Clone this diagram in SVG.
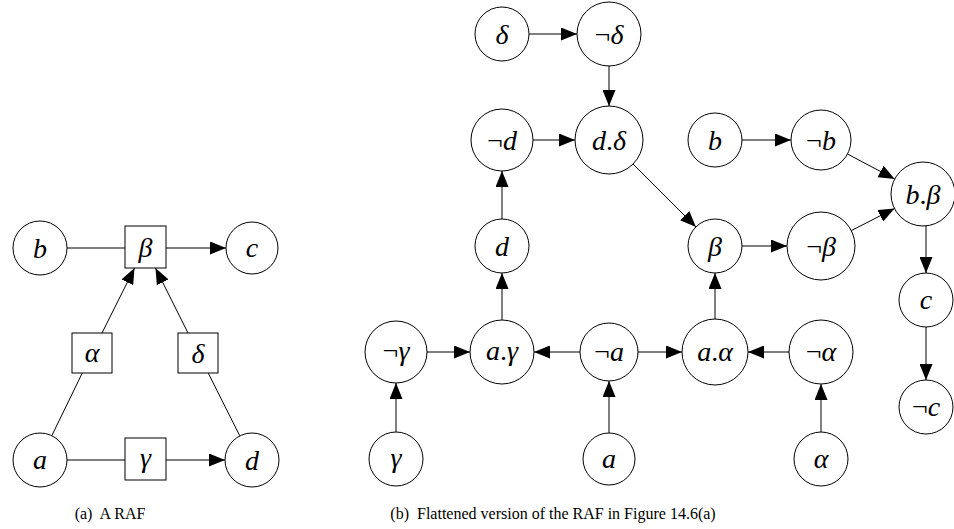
<svg xmlns="http://www.w3.org/2000/svg" width="954" height="529" viewBox="0 0 954 529">
<defs>
<marker id="arr" markerUnits="userSpaceOnUse" markerWidth="16" markerHeight="13" refX="16" refY="6.5" orient="auto">
<path d="M0,0 L16,6.5 L0,13 z" fill="#000"/>
</marker>
<style>
circle, rect { fill: #fff; stroke: #000; stroke-width: 1; }
.e line { stroke: #000; stroke-width: 1; fill: none; }
.a { marker-end: url(#arr); }
.l { font-size: 28px; font-style: italic; text-anchor: middle; }
.n { font-style: normal; }
.cap { font-size: 16px; text-anchor: middle; }
</style>
</defs>
<rect x="0" y="0" width="954" height="529" style="fill:#fff;stroke:none"/>

<g id="connectors" class="e">
<line x1="67" y1="248" x2="125" y2="248"/>
<line class="a" x1="166" y1="248" x2="226" y2="248"/>
<line x1="51.8" y1="435.7" x2="82.3" y2="373"/>
<line class="a" x1="102" y1="333" x2="134.5" y2="268"/>
<line x1="239.8" y1="435.9" x2="208.2" y2="373"/>
<line class="a" x1="188" y1="333" x2="155.5" y2="268"/>
<line x1="67" y1="460" x2="125" y2="460"/>
<line class="a" x1="166" y1="460" x2="225" y2="460"/>
<line class="a" x1="529" y1="34" x2="577" y2="34"/>
<line class="a" x1="609" y1="66" x2="609" y2="106"/>
<line class="a" x1="533" y1="140" x2="575" y2="140"/>
<line class="a" x1="502" y1="219" x2="502" y2="171"/>
<line class="a" x1="502" y1="320" x2="502" y2="273"/>
<line class="a" x1="427" y1="352" x2="470" y2="352"/>
<line class="a" x1="396" y1="432" x2="396" y2="383"/>
<line class="a" x1="580" y1="352" x2="534" y2="352"/>
<line class="a" x1="638" y1="352" x2="682" y2="352"/>
<line class="a" x1="609" y1="433" x2="609" y2="381"/>
<line class="a" x1="789" y1="352" x2="748" y2="352"/>
<line class="a" x1="821" y1="432" x2="821" y2="384"/>
<line class="a" x1="715" y1="319" x2="715" y2="273"/>
<line class="a" x1="633" y1="164" x2="696" y2="227"/>
<line class="a" x1="742" y1="246" x2="787" y2="246"/>
<line class="a" x1="851.3" y1="230.6" x2="894.5" y2="208.5"/>
<line class="a" x1="742" y1="140" x2="791" y2="140"/>
<line class="a" x1="847.5" y1="154" x2="894.7" y2="179"/>
<line class="a" x1="926" y1="226" x2="926" y2="273"/>
<line class="a" x1="926" y1="327" x2="926" y2="380"/>
</g>

<g font-family="'Liberation Serif', 'Times New Roman', 'DejaVu Serif', serif" fill="#000">
<g id="L_b"><circle cx="40" cy="248" r="27"/><text class="l" x="40" y="258">b</text></g>
<g id="L_beta"><rect x="125" y="226" width="41" height="42"/><text class="l" x="145.5" y="257">β</text></g>
<g id="L_c"><circle cx="252" cy="248" r="26"/><text class="l" x="252" y="257">c</text></g>
<g id="L_alpha"><rect x="72" y="333" width="40" height="40"/><text class="l" x="92" y="362">α</text></g>
<g id="L_delta"><rect x="178" y="333" width="40" height="40"/><text class="l" x="198" y="363">δ</text></g>
<g id="L_a"><circle cx="40" cy="460" r="27"/><text class="l" x="40" y="469">a</text></g>
<g id="L_gamma"><rect x="125" y="438" width="41" height="42"/><text class="l" x="145.5" y="467">γ</text></g>
<g id="L_d"><circle cx="252" cy="460" r="27"/><text class="l" x="252" y="470">d</text></g>

<g id="R_delta"><circle cx="502" cy="34" r="27"/><text class="l" x="502" y="44">δ</text></g>
<g id="R_ndelta"><circle cx="609" cy="34" r="32"/><text class="l" x="609" y="44"><tspan class="n">¬</tspan>δ</text></g>
<g id="R_nd"><circle cx="502" cy="140" r="31"/><text class="l" x="502" y="150"><tspan class="n">¬</tspan>d</text></g>
<g id="R_ddelta"><circle cx="609" cy="140" r="34"/><text class="l" x="609" y="150">d<tspan class="n">.</tspan>δ</text></g>
<g id="R_d"><circle cx="502" cy="246" r="27"/><text class="l" x="502" y="256">d</text></g>
<g id="R_ngamma"><circle cx="396" cy="352" r="31"/><text class="l" x="396" y="360"><tspan class="n">¬</tspan>γ</text></g>
<g id="R_agamma"><circle cx="502" cy="352" r="32"/><text class="l" x="502" y="360">a<tspan class="n">.</tspan>γ</text></g>
<g id="R_na"><circle cx="609" cy="352" r="29"/><text class="l" x="609" y="361"><tspan class="n">¬</tspan>a</text></g>
<g id="R_gamma"><circle cx="396" cy="459" r="27"/><text class="l" x="396" y="467">γ</text></g>
<g id="R_a"><circle cx="609" cy="459" r="26"/><text class="l" x="609" y="468">a</text></g>
<g id="R_b"><circle cx="715" cy="140" r="27"/><text class="l" x="715" y="150">b</text></g>
<g id="R_nb"><circle cx="821" cy="140" r="30"/><text class="l" x="821" y="150"><tspan class="n">¬</tspan>b</text></g>
<g id="R_bbeta"><circle cx="923" cy="194" r="32"/><text class="l" x="923" y="204">b<tspan class="n">.</tspan>β</text></g>
<g id="R_beta"><circle cx="715" cy="246" r="27"/><text class="l" x="715" y="256">β</text></g>
<g id="R_nbeta"><circle cx="821" cy="246" r="34"/><text class="l" x="821" y="256"><tspan class="n">¬</tspan>β</text></g>
<g id="R_aalpha"><circle cx="715" cy="352" r="33"/><text class="l" x="715" y="361">a<tspan class="n">.</tspan>α</text></g>
<g id="R_nalpha"><circle cx="821" cy="352" r="32"/><text class="l" x="821" y="361"><tspan class="n">¬</tspan>α</text></g>
<g id="R_alpha"><circle cx="821" cy="459" r="27"/><text class="l" x="821" y="468">α</text></g>
<g id="R_c"><circle cx="926" cy="300" r="27"/><text class="l" x="926" y="309">c</text></g>
<g id="R_nc"><circle cx="926" cy="407" r="27"/><text class="l" x="926" y="416"><tspan class="n">¬</tspan>c</text></g>

<text class="cap" x="110" y="519" xml:space="preserve">(a)  A RAF</text>
<text class="cap" x="553" y="519" xml:space="preserve">(b)  Flattened version of the RAF in Figure 14.6(a)</text>
</g>
</svg>
